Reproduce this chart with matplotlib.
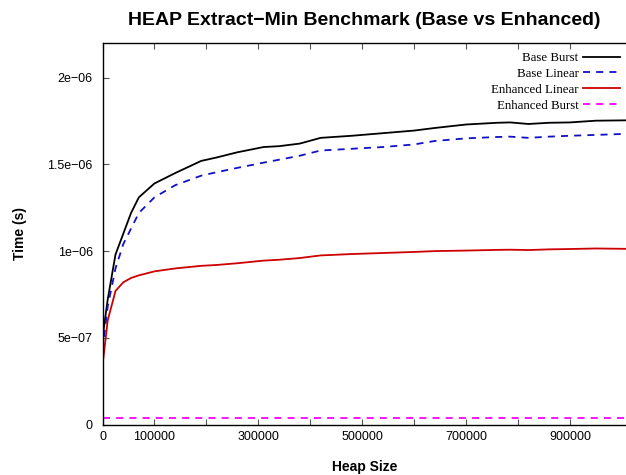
import matplotlib
matplotlib.use("Agg")
import matplotlib.pyplot as plt
from matplotlib.ticker import FixedLocator

# ---- data ----
heap_size = [0, 10000, 25000, 40000, 55000, 70000, 100000, 140000, 190000, 220000,
             260000, 310000, 340000, 380000, 420000, 480000, 540000, 600000, 640000,
             700000, 760000, 785000, 820000, 860000, 900000, 950000, 1008000]

base_burst = [0.50, 0.72, 0.98, 1.10, 1.22, 1.31, 1.39, 1.45, 1.52, 1.54,
              1.57, 1.60, 1.605, 1.62, 1.653, 1.665, 1.68, 1.695, 1.71,
              1.73, 1.74, 1.742, 1.733, 1.74, 1.742, 1.752, 1.754]

base_linear = [0.43, 0.68, 0.90, 1.04, 1.13, 1.22, 1.31, 1.38, 1.435, 1.455,
               1.48, 1.51, 1.527, 1.55, 1.58, 1.59, 1.60, 1.615, 1.635,
               1.65, 1.658, 1.66, 1.653, 1.66, 1.665, 1.67, 1.676]

enh_linear = [0.34, 0.60, 0.77, 0.82, 0.845, 0.86, 0.883, 0.90, 0.915, 0.92,
              0.93, 0.945, 0.95, 0.96, 0.975, 0.983, 0.989, 0.995, 1.0,
              1.003, 1.007, 1.008, 1.006, 1.01, 1.012, 1.015, 1.013]

enh_burst = [0.038] * len(heap_size)

scale = 1e-6
x_ticks = [0, 100000, 200000, 300000, 400000, 500000, 600000, 700000, 800000, 900000]
x_tick_labels = ["0", "100000", "", "300000", "", "500000", "", "700000", "", "900000"]
y_ticks = [0, 5e-7, 1e-6, 1.5e-6, 2e-6]
y_tick_labels = ["0", "5e\u221207", "1e\u221206", "1.5e\u221206", "2e\u221206"]

# ---- figure ----
W, H = 626, 475
fig = plt.figure(figsize=(W / 100, H / 100), dpi=100)
left, right, top, bottom = 102.5, 626.0, 43.0, 424.5
ax = fig.add_axes([left / W, 1 - bottom / H, (right - left) / W, (bottom - top) / H])

sans = "Liberation Sans"
serif = "Liberation Serif"

lw = 1.3
dash = (3.9, 3.4)
ax.plot(heap_size, [v * scale for v in base_burst], color="black", lw=lw,
        label="Base Burst")
ax.plot(heap_size, [v * scale for v in base_linear], color="#1010c8", lw=lw,
        dashes=dash, label="Base Linear")
ax.plot(heap_size, [v * scale for v in enh_linear], color="#cc0000", lw=lw,
        label="Enhanced Linear")
ax.plot(heap_size, [v * scale for v in enh_burst], color="#ff00ff", lw=lw,
        dashes=dash, label="Enhanced Burst")

ax.set_xlim(0, 1008000)
ax.set_ylim(0, 2.2e-6)

ax.xaxis.set_major_locator(FixedLocator(x_ticks))
ax.set_xticklabels(x_tick_labels, fontfamily=sans, fontsize=9)
ax.yaxis.set_major_locator(FixedLocator(y_ticks))
ax.set_yticklabels(y_tick_labels, fontfamily=sans, fontsize=9)

ax.tick_params(axis="both", direction="in", length=4, width=0.8, color="#555555")
ax.tick_params(axis="x", top=True, pad=5)
ax.tick_params(axis="y", right=False, pad=7)
ax.minorticks_off()

for s in ["left", "bottom", "top"]:
    ax.spines[s].set_linewidth(1.0)
    ax.spines[s].set_color("black")
ax.spines["right"].set_visible(False)

ax.set_title("HEAP Extract\u2212Min Benchmark (Base vs Enhanced)",
             fontfamily=sans, fontweight="bold", fontsize=14, pad=13)
ax.set_xlabel("Heap Size", fontfamily=sans, fontweight="bold", fontsize=10, va="center")
ax.set_ylabel("Time (s)", fontfamily=sans, fontweight="bold", fontsize=10, va="center")
ax.xaxis.set_label_coords(0.5, -(466.7 - bottom) / (bottom - top))
ax.yaxis.set_label_coords((20 - left) / (right - left), 0.5)

leg = ax.legend(loc="upper right", bbox_to_anchor=(1 + 3.5 / (right - left), 1.0),
                frameon=False, markerfirst=False,
                prop={"family": serif, "size": 9.3}, handlelength=2.9,
                handletextpad=0.35, labelspacing=0.30, borderaxespad=0.25,
                borderpad=0.45)

fig.savefig("out.png", dpi=100)
